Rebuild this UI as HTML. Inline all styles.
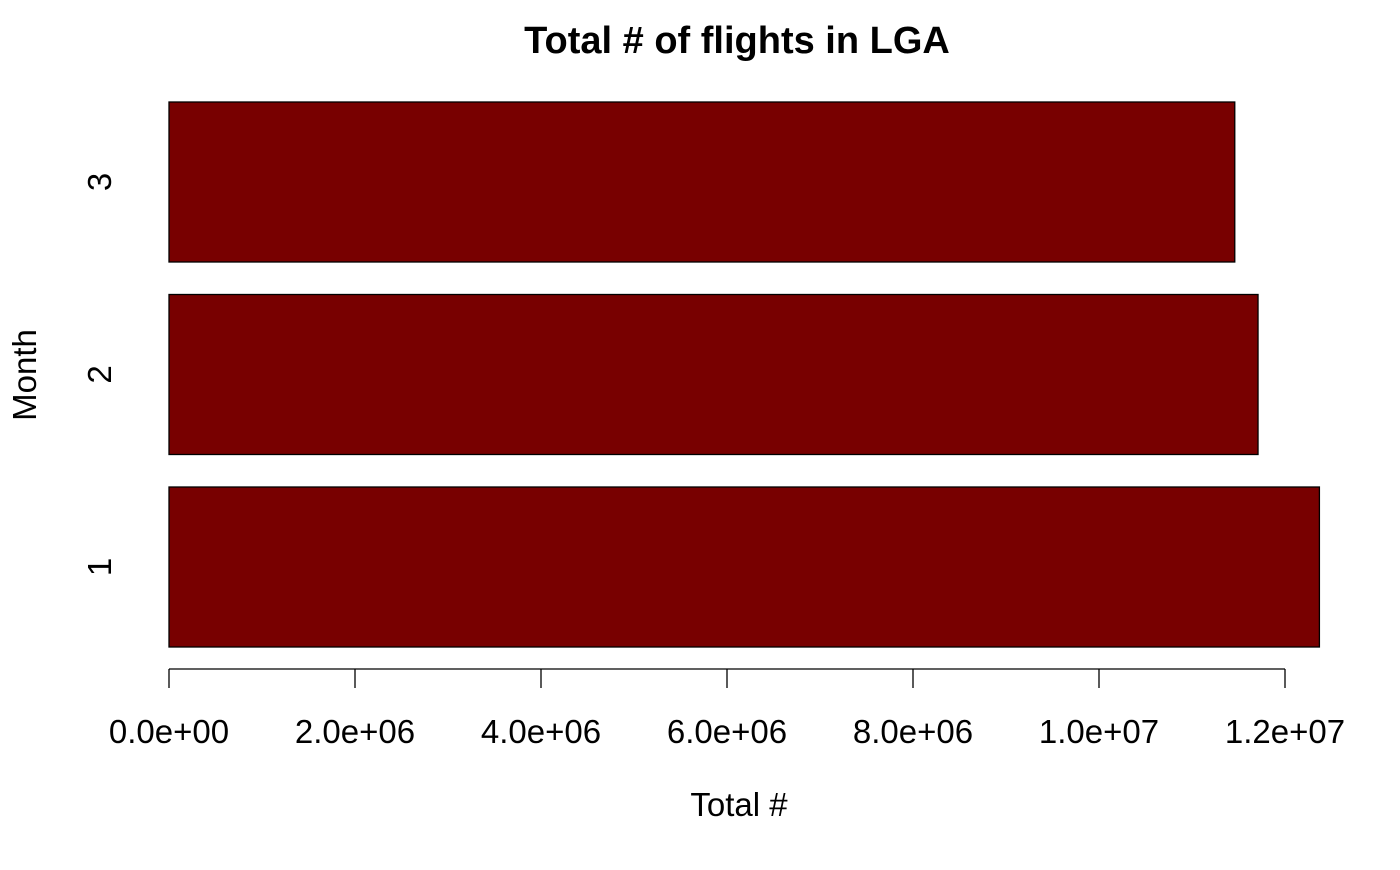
<!DOCTYPE html>
<html><head><meta charset="utf-8">
<style>
html,body{margin:0;padding:0;background:#fff;}
svg text{font-family:"Liberation Sans",Arial,sans-serif;fill:#000;}
</style></head>
<body>
<svg id="chart" width="1400" height="865" viewBox="0 0 1400 865" xmlns="http://www.w3.org/2000/svg">
<text x="737" y="53" text-anchor="middle" font-size="38" font-weight="bold">Total # of flights in LGA</text>
<text x="739" y="816" text-anchor="middle" font-size="33">Total #</text>
<text transform="translate(36,375) rotate(-90)" text-anchor="middle" font-size="33">Month</text>
<g id="bars"></g>
<g id="xaxis"></g>
<g id="ylabels"></g>
</svg>
<script>
const categories = ["1","2","3"];
const values = [12370000, 11710000, 11460000];
const tickValues = [0, 2e6, 4e6, 6e6, 8e6, 1e7, 1.2e7];
const tickLabels = ["0.0e+00","2.0e+06","4.0e+06","6.0e+06","8.0e+06","1.0e+07","1.2e+07"];

const NS = "http://www.w3.org/2000/svg";
const x0 = 169, pxPerUnit = (1285 - 169) / 1.2e7;
function xScale(v){ return x0 + v * pxPerUnit; }
const barH = 160, step = 192.5, bottomTop = 487;
function yTop(i){ return bottomTop - i * step; }

const gb = document.getElementById('bars');
const gy = document.getElementById('ylabels');
categories.forEach((c, i) => {
  const r = document.createElementNS(NS, 'rect');
  
  
  r.setAttribute('x', xScale(0));
  r.setAttribute('y', yTop(i));
  r.setAttribute('width', xScale(values[i]) - xScale(0));
  r.setAttribute('height', barH);
  r.setAttribute('fill', '#780000');
  r.setAttribute('stroke', '#000');
  r.setAttribute('stroke-width', '1.3');
  gb.appendChild(r);
  const t = document.createElementNS(NS, 'text');
  
  
  const cy = yTop(i) + barH / 2;
  t.setAttribute('transform', 'translate(111,' + cy + ') rotate(-90)');
  t.setAttribute('text-anchor', 'middle');
  t.setAttribute('font-size', '33');
  t.textContent = c;
  gy.appendChild(t);
});

const gx = document.getElementById('xaxis');
const axis = document.createElementNS(NS, 'line');


axis.setAttribute('x1', xScale(tickValues[0]));
axis.setAttribute('x2', xScale(tickValues[tickValues.length - 1]));
axis.setAttribute('y1', 669); axis.setAttribute('y2', 669);
axis.setAttribute('stroke', '#000'); axis.setAttribute('stroke-width', '1.3');
gx.appendChild(axis);
tickValues.forEach((v, i) => {
  const l = document.createElementNS(NS, 'line');
  
  
  l.setAttribute('x1', xScale(v)); l.setAttribute('x2', xScale(v));
  l.setAttribute('y1', 669); l.setAttribute('y2', 688);
  l.setAttribute('stroke', '#000'); l.setAttribute('stroke-width', '1.3');
  gx.appendChild(l);
  const t = document.createElementNS(NS, 'text');
  
  
  t.setAttribute('x', xScale(v)); t.setAttribute('y', 743);
  t.setAttribute('text-anchor', 'middle');
  t.setAttribute('font-size', '33');
  t.textContent = tickLabels[i];
  gx.appendChild(t);
});
</script>
</body></html>
